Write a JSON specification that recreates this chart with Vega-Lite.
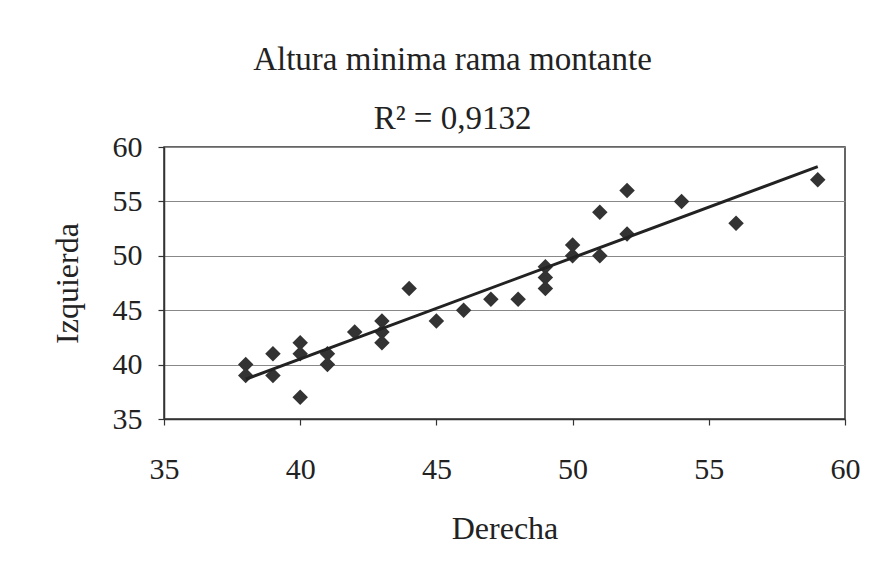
{
  "$schema": "https://vega.github.io/schema/vega-lite/v6.json",
  "autosize": {"type": "none"},
  "width": 681,
  "height": 272,
  "padding": {"left": 164, "top": 147, "right": 33, "bottom": 163},
  "background": "white",
  "title": {
    "text": "Altura minima rama montante",
    "subtitle": "R² = 0,9132",
    "anchor": "middle",
    "dx": -52,
    "offset": -4,
    "font": "Liberation Serif",
    "fontSize": 33,
    "fontWeight": "normal",
    "color": "#222",
    "subtitleFont": "Liberation Serif",
    "subtitleFontSize": 33,
    "subtitleColor": "#222",
    "subtitlePadding": 26
  },
  "data": {
    "values": [
      {"Derecha": 38, "Izquierda": 40}, {"Derecha": 38, "Izquierda": 39},
      {"Derecha": 39, "Izquierda": 41}, {"Derecha": 39, "Izquierda": 39},
      {"Derecha": 40, "Izquierda": 42}, {"Derecha": 40, "Izquierda": 41},
      {"Derecha": 40, "Izquierda": 37}, {"Derecha": 41, "Izquierda": 41},
      {"Derecha": 41, "Izquierda": 40}, {"Derecha": 42, "Izquierda": 43},
      {"Derecha": 43, "Izquierda": 44}, {"Derecha": 43, "Izquierda": 43},
      {"Derecha": 43, "Izquierda": 42}, {"Derecha": 44, "Izquierda": 47},
      {"Derecha": 45, "Izquierda": 44}, {"Derecha": 46, "Izquierda": 45},
      {"Derecha": 47, "Izquierda": 46}, {"Derecha": 48, "Izquierda": 46},
      {"Derecha": 49, "Izquierda": 49}, {"Derecha": 49, "Izquierda": 48},
      {"Derecha": 49, "Izquierda": 47}, {"Derecha": 50, "Izquierda": 51},
      {"Derecha": 50, "Izquierda": 50}, {"Derecha": 51, "Izquierda": 54},
      {"Derecha": 51, "Izquierda": 50}, {"Derecha": 52, "Izquierda": 56},
      {"Derecha": 52, "Izquierda": 52}, {"Derecha": 54, "Izquierda": 55},
      {"Derecha": 56, "Izquierda": 53}, {"Derecha": 59, "Izquierda": 57}
    ]
  },
  "encoding": {
    "x": {
      "field": "Derecha", "type": "quantitative",
      "scale": {"domain": [35, 60], "nice": false, "zero": false},
      "axis": {"values": [35, 40, 45, 50, 55, 60], "grid": false, "title": "Derecha", "labelFlush": false, "labelPadding": 29, "titlePadding": 29}
    },
    "y": {
      "field": "Izquierda", "type": "quantitative",
      "scale": {"domain": [35, 60], "nice": false, "zero": false},
      "axis": {"values": [35, 40, 45, 50, 55, 60], "grid": true, "title": "Izquierda", "labelFlush": false, "labelPadding": 16, "titlePadding": 28}
    }
  },
  "layer": [
    {
      "mark": {"type": "point", "shape": "diamond", "filled": true, "size": 240, "color": "#333", "opacity": 1}
    },
    {
      "transform": [{"regression": "Izquierda", "on": "Derecha", "extent": [38, 59]}],
      "mark": {"type": "line", "color": "#222", "strokeWidth": 3}
    }
  ],
  "config": {
    "view": {"stroke": "#333", "strokeWidth": 1.5},
    "axis": {
      "labelFont": "Liberation Serif",
      "labelFontSize": 30,
      "labelColor": "#222",
      "titleFont": "Liberation Serif",
      "titleFontSize": 32,
      "titleFontWeight": "normal",
      "titleColor": "#222",
      "domainColor": "#333",
      "domainWidth": 1.5,
      "tickColor": "#333",
      "tickSize": 6,
      "tickWidth": 1.2,
      "gridColor": "#888",
      "gridWidth": 1.2
    }
  }
}
